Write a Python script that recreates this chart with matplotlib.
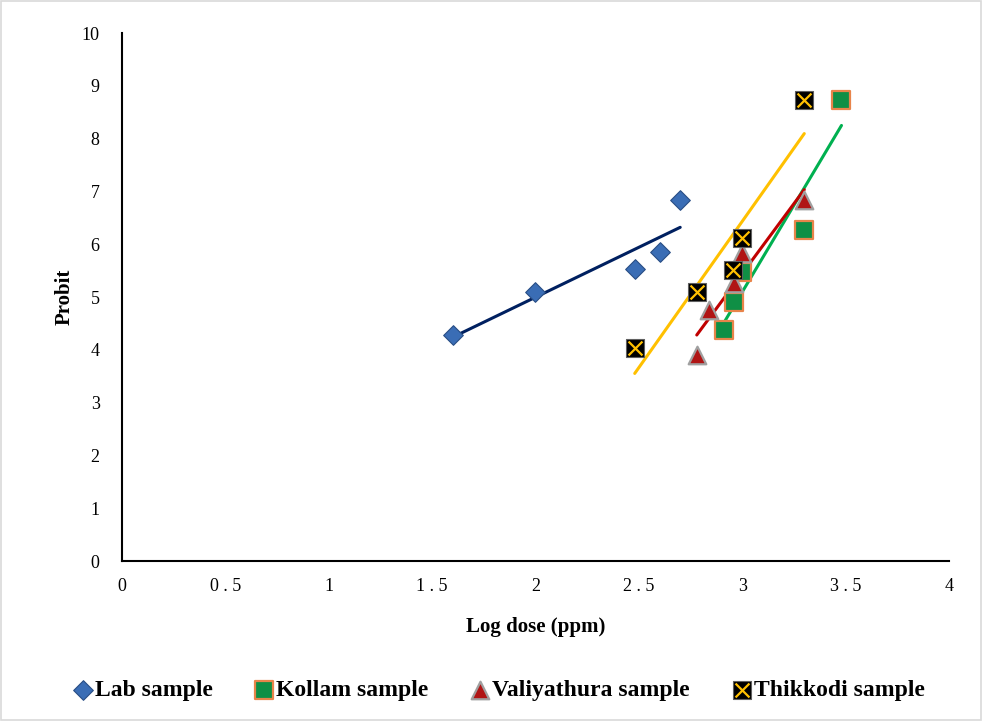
import numpy as np
import matplotlib
matplotlib.use("Agg")
from matplotlib import pyplot as plt
from matplotlib.legend_handler import HandlerTuple
from matplotlib.patches import Rectangle

# data (log dose, probit)
lab_x = [1.60, 2.00, 2.48, 2.60, 2.70]
lab_y = [4.28, 5.09, 5.53, 5.85, 6.84]

kollam_x = [2.91, 2.96, 3.00, 3.30, 3.48]
kollam_y = [4.38, 4.90, 5.47, 6.27, 8.73]

valiya_x = [2.78, 2.84, 2.96, 3.00, 3.30]
valiya_y = [3.90, 4.75, 5.27, 5.83, 6.84]

thikk_x = [2.48, 2.78, 2.955, 3.00, 3.30]
thikk_y = [4.03, 5.09, 5.51, 6.12, 8.73]

x_ticks = [0, 0.5, 1, 1.5, 2, 2.5, 3, 3.5, 4]
y_ticks = list(range(0, 11))

plt.rcParams['font.family'] = ['Liberation Serif', 'DejaVu Serif']

fig = plt.figure(figsize=(9.82, 7.21), dpi=100)
fig.patches.append(Rectangle((0.001, 0.001), 0.998, 0.997, transform=fig.transFigure,
                             fill=False, edgecolor='#d9d9d9', lw=1.2))
ax = fig.add_axes([0.1242, 0.2219, 0.8422, 0.7323])


def trend(x, y, color):
    k, b = np.polyfit(x, y, 1)
    xs = np.array([min(x), max(x)])
    ax.plot(xs, k * xs + b, color=color, lw=2.2, zorder=2, solid_capstyle='round')


trend(lab_x, lab_y, '#002060')
trend(kollam_x, kollam_y, '#00b050')
trend(valiya_x, valiya_y, '#c00000')
trend(thikk_x, thikk_y, '#ffc000')

h_lab = ax.scatter(lab_x, lab_y, marker='D', s=100, color='#3a6db5',
                   edgecolor='#2a4f85', linewidth=0.8, zorder=3)
h_kol = ax.scatter(kollam_x, kollam_y, marker='s', s=170, color='#0f8f45',
                   edgecolor='#e8844a', linewidth=1.6, zorder=3)
h_val = ax.scatter(valiya_x, valiya_y, marker='^', s=160, color='#b01515',
                   edgecolor='#a0a0a0', linewidth=1.6, zorder=3)
h_thk1 = ax.scatter(thikk_x, thikk_y, marker='s', s=170, color='black',
                    edgecolor='#606060', linewidth=0.8, zorder=4)
h_thk2 = ax.scatter(thikk_x, thikk_y, marker='x', s=100, color='#ffc000',
                    linewidth=1.6, zorder=5)

ax.set_xlim(0, 4)
ax.set_ylim(0, 10)
ax.set_xticks(x_ticks)
ax.set_xticklabels([' . '.join(str(t).split('.')) for t in x_ticks])
ax.set_yticks(y_ticks)
ax.tick_params(length=0, labelsize=13)
ax.tick_params(axis='y', pad=16)
ax.tick_params(axis='x', pad=12)
ax.spines['top'].set_visible(False)
ax.spines['right'].set_visible(False)
ax.spines['left'].set_linewidth(1.5)
ax.spines['bottom'].set_linewidth(1.5)

ax.set_xlabel('Log dose (ppm)', fontsize=15, fontweight='bold', labelpad=16)
ax.set_ylabel('Probit', fontsize=15, fontweight='bold', labelpad=5)

fig.legend([h_lab, h_kol, h_val, (h_thk1, h_thk2)],
           ['Lab sample', 'Kollam sample', 'Valiyathura sample', 'Thikkodi sample'],
           handler_map={tuple: HandlerTuple(ndivide=1, pad=0)},
           loc='center', bbox_to_anchor=(0.508, 0.043), ncol=4, frameon=False,
           prop={'weight': 'bold', 'size': 17}, handletextpad=0.1, columnspacing=1.8,
           handlelength=0.8)

fig.savefig('out.png', dpi=100)
